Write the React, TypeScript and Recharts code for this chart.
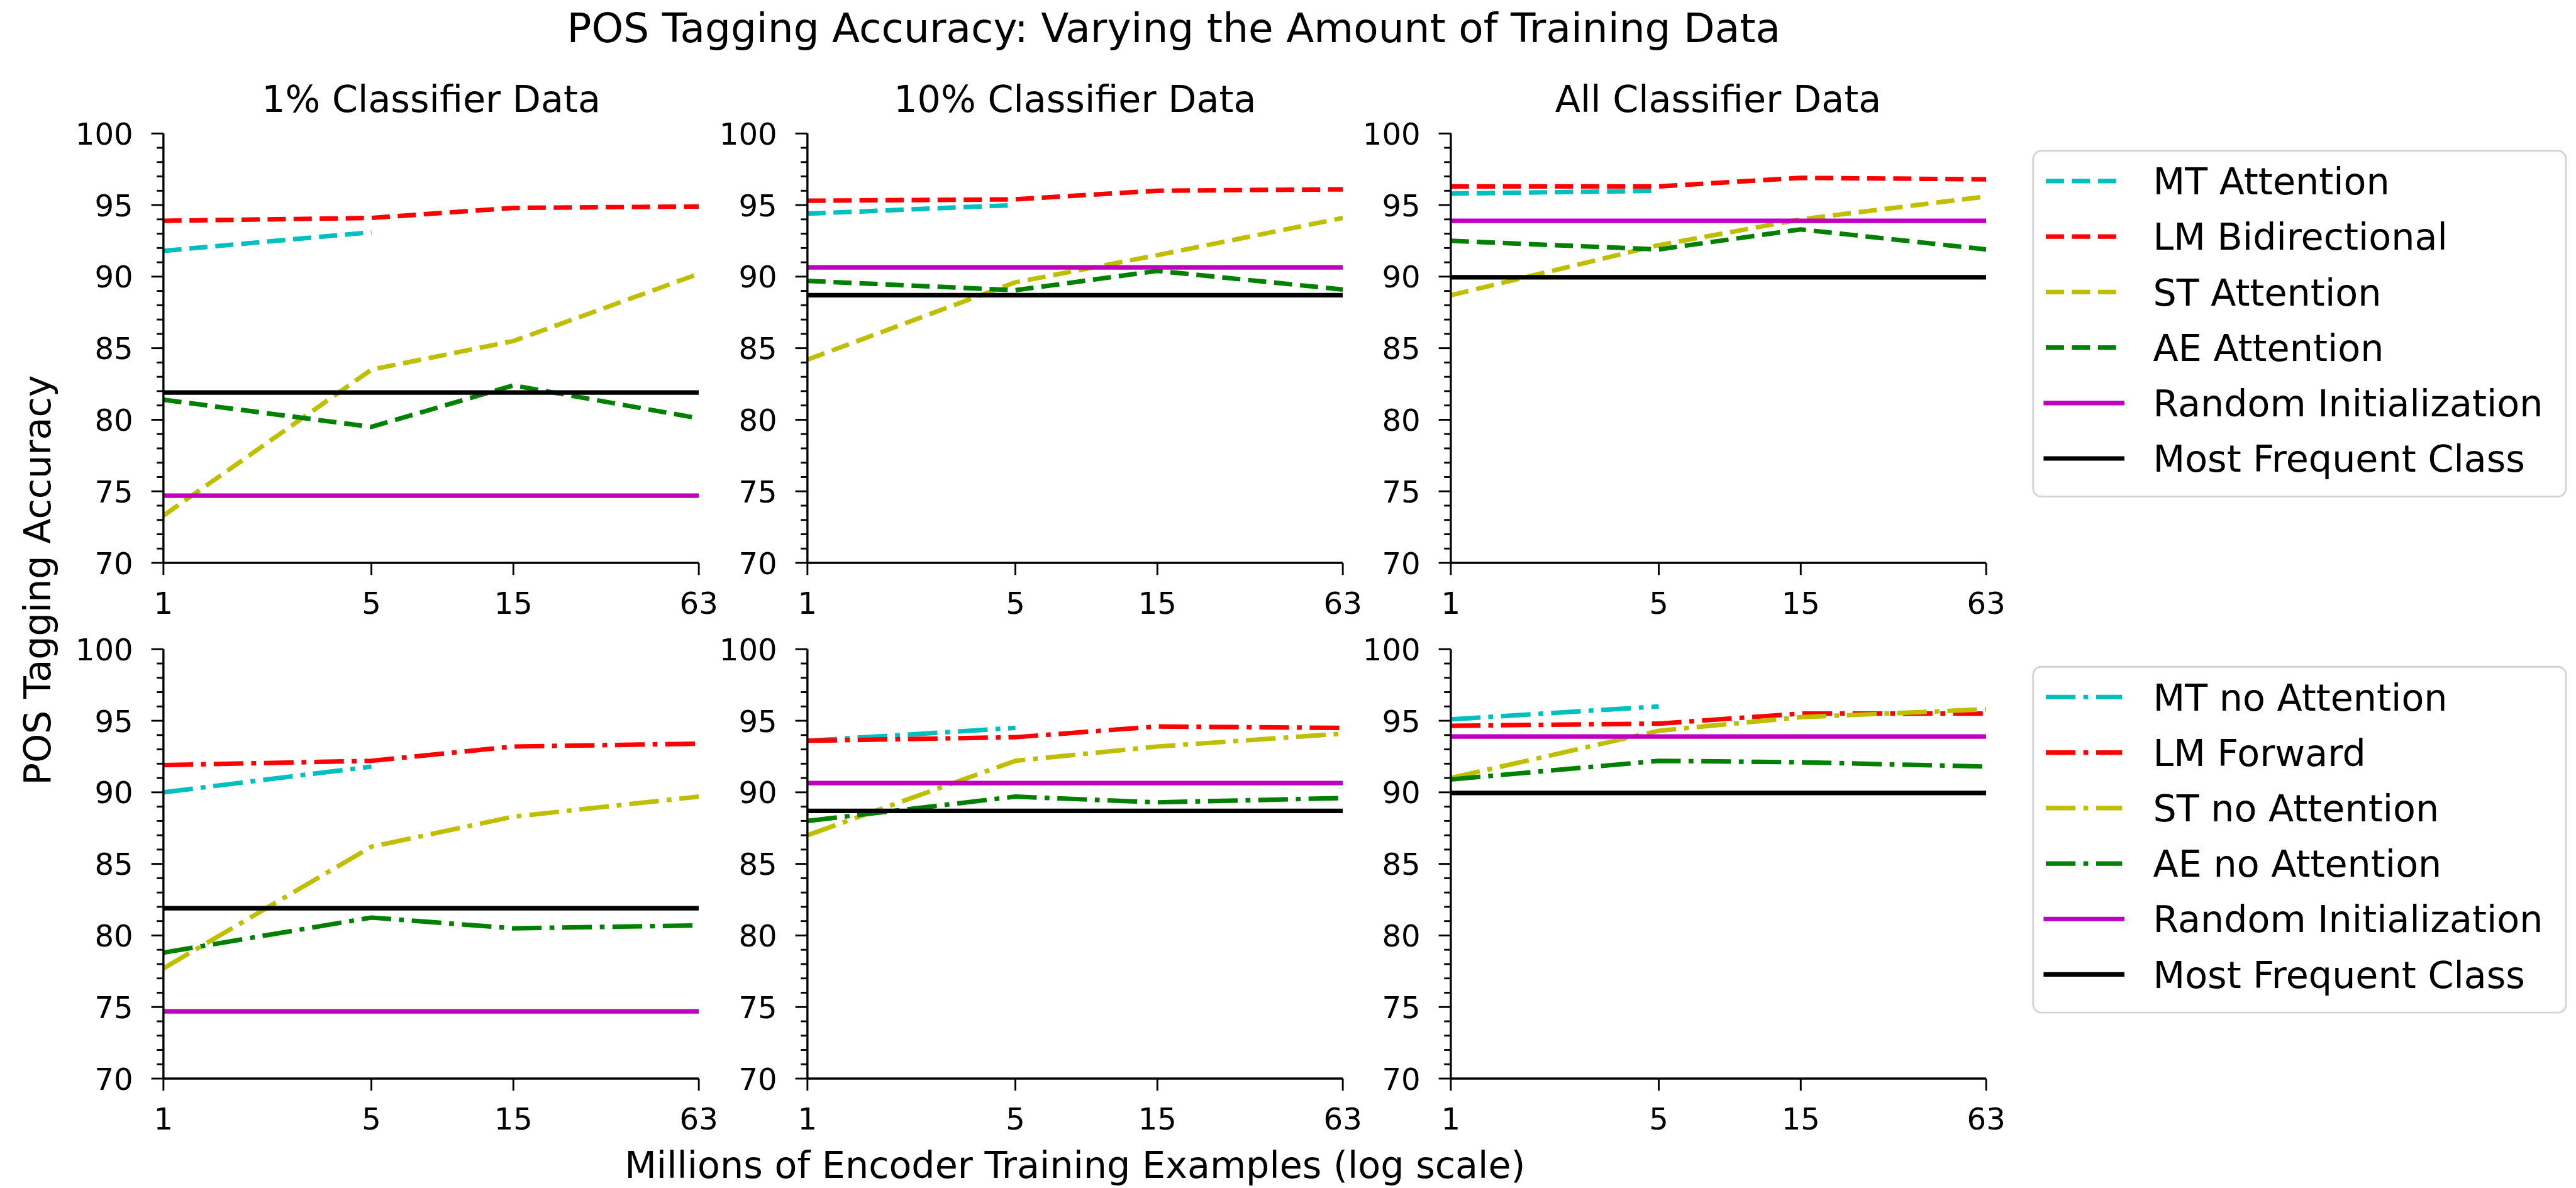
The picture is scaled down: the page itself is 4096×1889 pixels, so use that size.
import React from "react";
import { Line, LineChart, XAxis, YAxis } from "recharts";

// everything below is measured on the 4251px reference, then scaled
const S = 0.963;
const s = (v: number) => v * S;

const encoderSizes = [1, 5, 15, 63];
const xTicks = [1, 5, 15, 63];
const yTicks = Array.from({ length: 31 }, (_, i) => 70 + i); // minor every 1, labels every 5

const panelTitles = ["1% Classifier Data", "10% Classifier Data", "All Classifier Data"];

// one inner list per column: 1%, 10%, All classifier data
const mtAttention = [[91.8, 93.1], [94.4, 95.0], [95.8, 96.0]];
const lmBidirectional = [
  [93.9, 94.1, 94.8, 94.9],
  [95.3, 95.4, 96.0, 96.1],
  [96.3, 96.3, 96.9, 96.8],
];
const stAttention = [
  [73.3, 83.5, 85.5, 90.2],
  [84.2, 89.6, 91.5, 94.1],
  [88.7, 92.2, 94.0, 95.6],
];
const aeAttention = [
  [81.4, 79.5, 82.4, 80.1],
  [89.7, 89.05, 90.4, 89.1],
  [92.5, 91.9, 93.3, 91.9],
];

const mtNoAttention = [[90.0, 91.8], [93.6, 94.5], [95.1, 96.0]];
const lmForward = [
  [91.9, 92.2, 93.2, 93.4],
  [93.6, 93.85, 94.6, 94.5],
  [94.65, 94.8, 95.5, 95.5],
];
const stNoAttention = [
  [77.7, 86.2, 88.3, 89.7],
  [87.0, 92.2, 93.2, 94.1],
  [91.0, 94.3, 95.25, 95.8],
];
const aeNoAttention = [
  [78.8, 81.25, 80.5, 80.7],
  [88.0, 89.7, 89.3, 89.6],
  [90.9, 92.2, 92.1, 91.8],
];

const randomInit = [74.7, 90.65, 93.9];
const mostFrequent = [81.9, 88.7, 89.95];

// styles
const LW = 7.5;
const DASHED = `${s(30)} ${s(13)}`;
const DASHDOT = `${s(49)} ${s(13)} ${s(8)} ${s(13)}`;
const FONT = "'DejaVu Sans', sans-serif";

type Series = { key: string; name: string; color: string; dash?: string; values: number[][] };

const topSeries: Series[] = [
  { key: "mt", name: "MT Attention", color: "#00bfbf", dash: DASHED, values: mtAttention },
  { key: "lm", name: "LM Bidirectional", color: "#ff0000", dash: DASHED, values: lmBidirectional },
  { key: "st", name: "ST Attention", color: "#bfbf00", dash: DASHED, values: stAttention },
  { key: "ae", name: "AE Attention", color: "#008000", dash: DASHED, values: aeAttention },
];
const bottomSeries: Series[] = [
  { key: "mt", name: "MT no Attention", color: "#00bfbf", dash: DASHDOT, values: mtNoAttention },
  { key: "lm", name: "LM Forward", color: "#ff0000", dash: DASHDOT, values: lmForward },
  { key: "st", name: "ST no Attention", color: "#bfbf00", dash: DASHDOT, values: stNoAttention },
  { key: "ae", name: "AE no Attention", color: "#008000", dash: DASHDOT, values: aeNoAttention },
];
const baselines = [
  { key: "rnd", name: "Random Initialization", color: "#bf00bf", values: randomInit },
  { key: "mfc", name: "Most Frequent Class", color: "#000000", values: mostFrequent },
];

// layout (reference px)
const PLOT_LEFT = [270, 1333, 2395];
const PLOT_TOP = [220, 1072];
const PLOT_W = 884;
const PLOT_H = 709;
const AX_W = 220;
const AX_H = 140;
const PAD_T = 20;
const PAD_R = 40;

const axisLine = { stroke: "#000", strokeWidth: s(3.5) };

function YTick(props: any) {
  const { x, y, payload } = props;
  const major = payload.value % 5 === 0;
  return (
    <g>
      <line x1={x - s(major ? 20 : 11)} x2={x} y1={y} y2={y} stroke="#000" strokeWidth={s(3)} />
      {major && (
        <text x={x - s(50)} y={y + s(18.2)} textAnchor="end" fontSize={s(50)} fontFamily={FONT} fill="#000">
          {payload.value}
        </text>
      )}
    </g>
  );
}

function XTick(props: any) {
  const { x, y, payload } = props;
  return (
    <g>
      <line x1={x} x2={x} y1={y} y2={y + s(20)} stroke="#000" strokeWidth={s(3)} />
      <text x={x} y={y + s(84)} textAnchor="middle" fontSize={s(50)} fontFamily={FONT} fill="#000">
        {payload.value}
      </text>
    </g>
  );
}

function Panel({ row, col }: { row: number; col: number }) {
  const series = row === 0 ? topSeries : bottomSeries;
  const data = encoderSizes.map((x, i) => {
    const r: Record<string, number | null> = { x };
    series.forEach((sr) => {
      const v = sr.values[col][i];
      r[sr.key] = v === undefined ? null : v;
    });
    baselines.forEach((b) => (r[b.key] = b.values[col]));
    return r;
  });

  return (
    <div
      style={{
        position: "absolute",
        left: s(PLOT_LEFT[col] - AX_W),
        top: s(PLOT_TOP[row] - PAD_T),
      }}
    >
      <LineChart
        width={s(AX_W + PLOT_W + PAD_R)}
        height={s(PAD_T + PLOT_H + AX_H)}
        data={data}
        margin={{ top: s(PAD_T), right: s(PAD_R), bottom: 0, left: 0 }}
      >
        <XAxis
          dataKey="x"
          type="number"
          scale="log"
          domain={[1, 63]}
          ticks={xTicks}
          interval={0}
          allowDataOverflow
          height={s(AX_H)}
          tickSize={0}
          tickMargin={0}
          tickLine={false}
          axisLine={axisLine}
          tick={(p: any) => <XTick {...p} />}
        />
        <XAxis
          xAxisId="top"
          orientation="top"
          dataKey="x"
          type="number"
          scale="log"
          domain={[1, 63]}
          allowDataOverflow
          height={0}
          tick={false}
          tickLine={false}
          axisLine={axisLine}
        />
        <YAxis
          type="number"
          domain={[70, 100]}
          ticks={yTicks}
          interval={0}
          allowDataOverflow
          width={s(AX_W)}
          tickSize={0}
          tickMargin={0}
          tickLine={false}
          axisLine={axisLine}
          tick={(p: any) => <YTick {...p} />}
        />
        <YAxis
          yAxisId="right"
          orientation="right"
          type="number"
          domain={[70, 100]}
          allowDataOverflow
          width={0}
          tick={false}
          tickLine={false}
          axisLine={axisLine}
        />
        {series.map((sr) => (
          <Line
            key={sr.key}
            type="linear"
            dataKey={sr.key}
            name={sr.name}
            stroke={sr.color}
            strokeWidth={s(LW)}
            strokeDasharray={sr.dash}
            strokeLinejoin="round"
            dot={false}
            activeDot={false}
            isAnimationActive={false}
          />
        ))}
        {baselines.map((b) => (
          <Line
            key={b.key}
            type="linear"
            dataKey={b.key}
            name={b.name}
            stroke={b.color}
            strokeWidth={s(LW)}
            dot={false}
            activeDot={false}
            isAnimationActive={false}
          />
        ))}
      </LineChart>
    </div>
  );
}

const LEG_LEFT = 3357;
const LEG_W = 880;
const LEG_H = 571;
const LEG_TOP = [249, 1101];

function LegendBox({ top, items }: { top: number; items: { name: string; color: string; dash?: string }[] }) {
  return (
    <g>
      <rect
        x={s(LEG_LEFT)}
        y={s(top)}
        width={s(LEG_W)}
        height={s(LEG_H)}
        rx={s(14)}
        fill="#fff"
        stroke="#d4d4d4"
        strokeWidth={s(3)}
      />
      {items.map((it, i) => {
        const cy = top + 50 + i * 91.6;
        return (
          <g key={it.name}>
            <line
              x1={s(LEG_LEFT + 21)}
              x2={s(LEG_LEFT + 147)}
              y1={s(cy)}
              y2={s(cy)}
              stroke={it.color}
              strokeWidth={s(LW)}
              strokeDasharray={it.dash}
              strokeLinecap={it.dash ? "butt" : "square"}
            />
            <text x={s(LEG_LEFT + 198)} y={s(cy + 22)} fontSize={s(61)} fontFamily={FONT} fill="#000">
              {it.name}
            </text>
          </g>
        );
      })}
    </g>
  );
}

export default function App() {
  const W = 4096;
  const H = 1889;
  return (
    <div style={{ position: "relative", width: W, height: H, background: "#fff", fontFamily: FONT, overflow: "hidden" }}>
      <style>{`body{margin:0}.recharts-surface{overflow:visible}`}</style>
      {[0, 1].map((row) => [0, 1, 2].map((col) => <Panel key={`${row}-${col}`} row={row} col={col} />))}
      <svg width={W} height={H} style={{ position: "absolute", left: 0, top: 0, pointerEvents: "none" }}>
        <text x={s(1938)} y={s(70)} textAnchor="middle" fontSize={s(67)} fontFamily={FONT} fill="#000">
          POS Tagging Accuracy: Varying the Amount of Training Data
        </text>
        {panelTitles.map((t, i) => (
          <text
            key={t}
            x={s(PLOT_LEFT[i] + PLOT_W / 2)}
            y={s(185)}
            textAnchor="middle"
            fontSize={s(61)}
            fontFamily={FONT}
            fill="#000"
          >
            {t}
          </text>
        ))}
        <text
          x={s(83)}
          y={s(958)}
          transform={`rotate(-90, ${s(83)}, ${s(958)})`}
          textAnchor="middle"
          fontSize={s(61)}
          fontFamily={FONT}
          fill="#000"
        >
          POS Tagging Accuracy
        </text>
        <text
          x={s(PLOT_LEFT[1] + PLOT_W / 2)}
          y={s(1945)}
          textAnchor="middle"
          fontSize={s(61)}
          fontFamily={FONT}
          fill="#000"
        >
          Millions of Encoder Training Examples (log scale)
        </text>
        <LegendBox top={LEG_TOP[0]} items={[...topSeries, ...baselines]} />
        <LegendBox top={LEG_TOP[1]} items={[...bottomSeries, ...baselines]} />
      </svg>
    </div>
  );
}
